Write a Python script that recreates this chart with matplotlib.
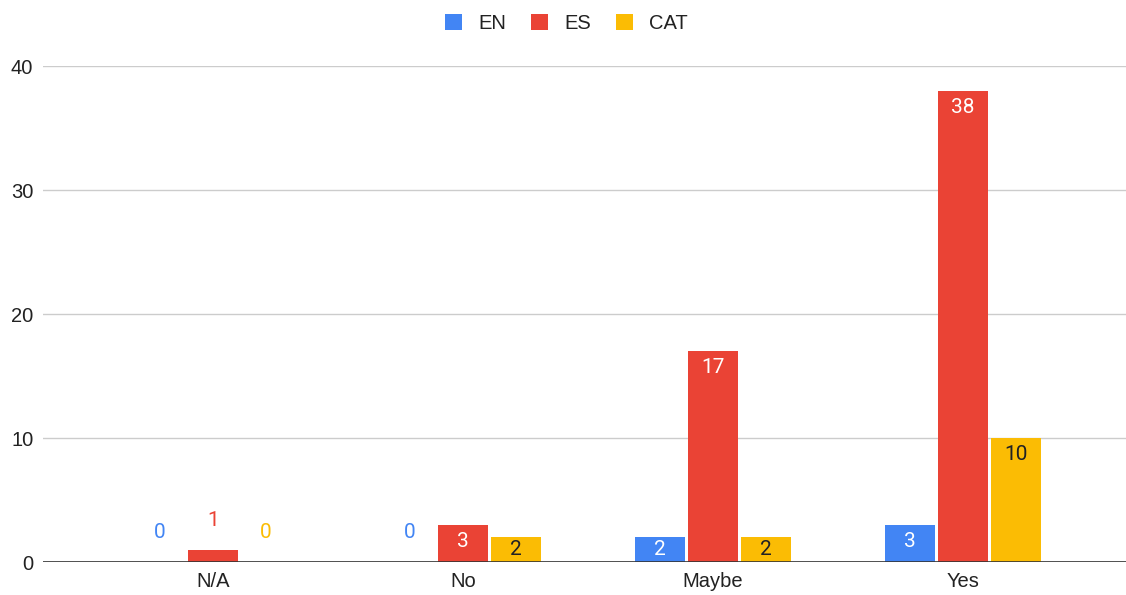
import matplotlib
matplotlib.use("Agg")
import matplotlib.pyplot as plt
import numpy as np

plt.rcParams['font.family'] = ['Liberation Sans', 'DejaVu Sans']

categories = ["N/A", "No", "Maybe", "Yes"]
series_names = ["EN", "ES", "CAT"]
en_values = [0, 0, 2, 3]
es_values = [1, 3, 17, 38]
cat_values = [0, 2, 2, 10]
y_ticks = [0, 10, 20, 30, 40]

colors = ["#4285F4", "#EA4335", "#FBBC04"]
inside_text = ["white", "white", "#202124"]

W, H = 1126, 595
fig = plt.figure(figsize=(W / 100, H / 100), dpi=100)
ax = fig.add_axes([43 / W, 33 / H, (W - 43) / W, (562 - 66) / H])

x = np.arange(len(categories))
bar_w = 0.2
step = 0.212
all_values = [en_values, es_values, cat_values]

ax.set_xlim(-0.68, 3.652)
ax.set_ylim(0, 40)

val_font = dict(family=['Roboto', 'DejaVu Sans'], fontsize=15, fontweight='normal')

for i, (vals, col, tcol) in enumerate(zip(all_values, colors, inside_text)):
    xs = x + (i - 1) * step
    ax.bar(xs, vals, width=bar_w, color=col, zorder=3, label=series_names[i])
    for xx, v in zip(xs, vals):
        h_px = v * (562 - 66) / 40
        if h_px >= 22:
            off = -min(11.8, h_px / 2 / 1.389)
            ax.annotate(str(v), (xx, v), xytext=(0, off), textcoords="offset points",
                        ha="center", va="center", color=tcol, zorder=5, **val_font)
        else:
            ax.annotate(str(v), (xx, v), xytext=(0, 21), textcoords="offset points",
                        ha="center", va="center", color=col, zorder=5, **val_font)

ax.set_yticks(y_ticks)
ax.set_xticks(x)
ax.set_xticklabels(categories)
ax.grid(axis="y", color="#cccccc", linewidth=1, zorder=0)
ax.axhline(0, color="#333333", linewidth=1.2, zorder=4)
for s in ax.spines.values():
    s.set_visible(False)
ax.tick_params(axis="both", length=0, labelsize=14.5, colors="#222222")
ax.tick_params(axis="y", pad=7)
ax.tick_params(axis="x", pad=7)

leg = fig.legend(loc="upper center", bbox_to_anchor=(0.503, 1.0), ncol=3, frameon=False,
                 fontsize=14.5, handlelength=0.85, handleheight=0.85, columnspacing=1.25,
                 handletextpad=0.8, borderaxespad=0.3)
for t in leg.get_texts():
    t.set_color("#222222")

fig.savefig("out.png", dpi=100)
